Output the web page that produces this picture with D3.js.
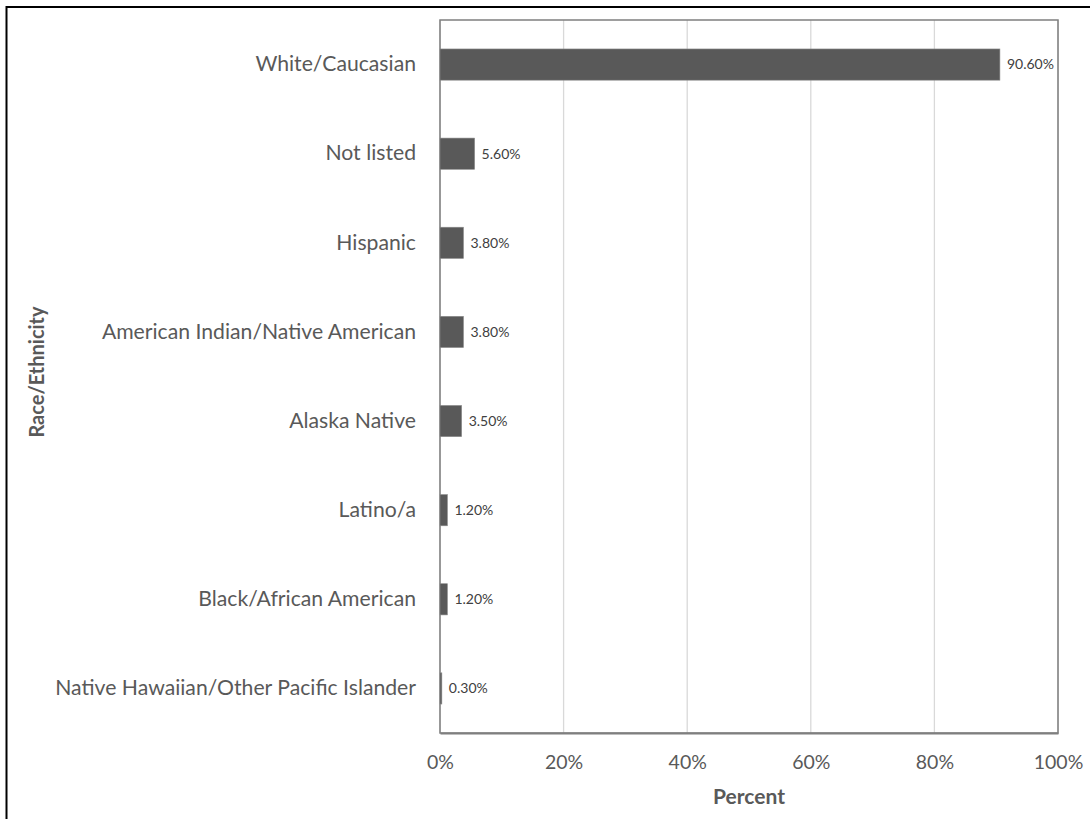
<!DOCTYPE html>
<html><head><meta charset="utf-8">
<script src="https://cdn.jsdelivr.net/npm/d3@7"></script>
<style>body{margin:0;background:#fff;} svg{display:block;}</style>
</head><body>
<svg id="chart" width="1090" height="819"></svg>
<script>
const categories = ["White/Caucasian","Not listed","Hispanic","American Indian/Native American","Alaska Native","Latino/a","Black/African American","Native Hawaiian/Other Pacific Islander"];
const values = [90.6, 5.6, 3.8, 3.8, 3.5, 1.2, 1.2, 0.3];
const valueLabels = ["90.60%","5.60%","3.80%","3.80%","3.50%","1.20%","1.20%","0.30%"];
const xTicks = [0,20,40,60,80,100];
const xTickLabels = ["0%","20%","40%","60%","80%","100%"];

const svg = d3.select("#chart");
const font = "Lato, 'Open Sans', sans-serif";
const m = {left:440, right:1058, top:20, bottom:733};

// outer frame
svg.append("rect").attr("x",6.5).attr("y",7).attr("width",1200).attr("height",900)
  .attr("fill","none").attr("stroke","#000").attr("stroke-width",2);

const x = d3.scaleLinear().domain([0,100]).range([m.left,m.right]);
const y = d3.scaleBand().domain(categories).range([m.top,m.bottom]).paddingInner(0.65).paddingOuter(0.325);

// gridlines
svg.append("g").selectAll("line").data(xTicks).join("line")
  .attr("x1",d=>x(d)).attr("x2",d=>x(d)).attr("y1",m.top).attr("y2",m.bottom)
  .attr("stroke","#d9d9d9").attr("stroke-width",1.3);

// plot border
svg.append("rect").attr("x",m.left).attr("y",m.top).attr("width",m.right-m.left).attr("height",m.bottom-m.top)
  .attr("fill","none").attr("stroke","#7f7f7f").attr("stroke-width",1.5);

// bars
svg.append("g").selectAll("rect").data(values).join("rect")
  .attr("x",x(0)).attr("y",(d,i)=>y(categories[i]))
  .attr("width",d=>x(d)-x(0)).attr("height",y.bandwidth())
  .attr("fill","#595959").attr("stroke","#8a8a8a").attr("stroke-width",0.6);

// value labels
svg.append("g").selectAll("text").data(values).join("text")
  .attr("x",d=>x(d)+7).attr("y",(d,i)=>y(categories[i])+y.bandwidth()/2)
  .attr("dy","0.35em").attr("font-family",font).attr("font-size",14).attr("fill","#404040")
  .text((d,i)=>valueLabels[i]);

// category labels
const yAxis = d3.axisLeft(y).tickSize(0).tickPadding(24);
const gy = svg.append("g").attr("transform",`translate(${m.left},0)`).call(yAxis);
gy.select(".domain").remove();
gy.selectAll("text").attr("font-family",font).attr("font-size",21.2).attr("fill","#595959");

// x axis
const xAxis = d3.axisBottom(x).tickValues(xTicks).tickFormat((d,i)=>xTickLabels[i]).tickSize(0).tickPadding(22);
const gx = svg.append("g").attr("transform",`translate(0,${m.bottom})`).call(xAxis);
gx.select(".domain").attr("stroke","#7f7f7f").attr("stroke-width",2);
gx.selectAll("text").attr("font-family",font).attr("font-size",19.5).attr("fill","#595959");

// axis titles
svg.append("text").attr("x",(m.left+m.right)/2).attr("y",804).attr("text-anchor","middle")
  .attr("font-family",font).attr("font-weight","bold").attr("font-size",21).attr("fill","#595959").text("Percent");
svg.append("text").attr("transform",`translate(44,372) rotate(-90)`).attr("text-anchor","middle")
  .attr("font-family",font).attr("font-weight","bold").attr("font-size",20).attr("fill","#595959").text("Race/Ethnicity");
</script>
</body></html>
